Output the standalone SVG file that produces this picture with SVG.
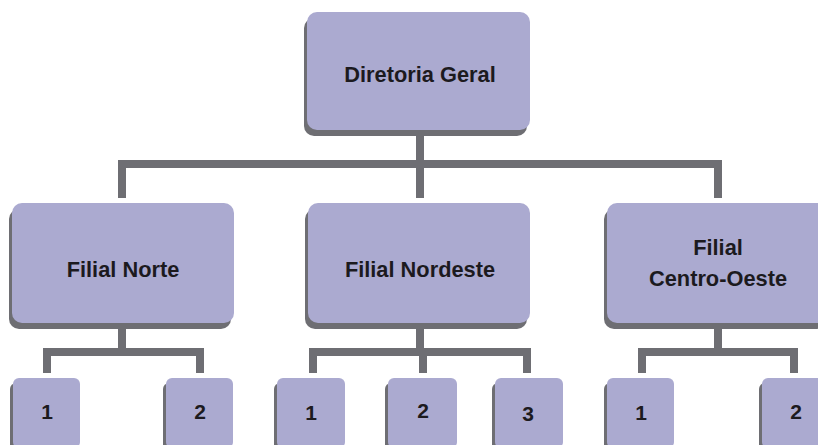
<svg xmlns="http://www.w3.org/2000/svg" width="818" height="445" viewBox="0 0 818 445">
<style>
.sh{fill:#6e6e73}
.bx{fill:#abaad0}
.t{font-family:"Liberation Sans",Arial,sans-serif;font-weight:bold;font-size:21.8px;fill:#1c1a1e;text-anchor:middle}
.n{font-family:"Liberation Sans",Arial,sans-serif;font-weight:bold;font-size:21px;fill:#1c1a1e;text-anchor:middle}
.c{fill:none;stroke:#6e6e73;stroke-width:8}
</style>
<rect width="818" height="445" fill="#ffffff"/>
<g id="connectors">
<path class="c" d="M420 134V164M122 164H718M122 160V198M420 160V198M718 160V198"/>
<path class="c" d="M122 328V352M47 352H200M47 348V373M200 348V373"/>
<path class="c" d="M420 328V352M313 352H527M313 348V373M423 348V373M527 348V373"/>
<path class="c" d="M718 328V352M642 352H794M642 348V373M794 348V373"/>
</g>
<g id="diretoria">
<rect class="sh" x="304" y="18" width="223" height="118" rx="10"/>
<rect class="bx" x="307" y="12" width="223" height="118" rx="10"/>
<text class="t" x="420" y="82">Diretoria Geral</text>
</g>
<g id="norte">
<rect class="sh" x="9" y="209" width="222" height="120" rx="10"/>
<rect class="bx" x="12" y="203" width="222" height="120" rx="10"/>
<text class="t" x="123" y="277">Filial Norte</text>
</g>
<g id="nordeste">
<rect class="sh" x="305" y="209" width="222" height="120" rx="10"/>
<rect class="bx" x="308" y="203" width="222" height="120" rx="10"/>
<text class="t" x="420" y="277">Filial Nordeste</text>
</g>
<g id="centro">
<rect class="sh" x="604" y="209" width="222" height="120" rx="10"/>
<rect class="bx" x="607" y="203" width="222" height="120" rx="10"/>
<text class="t" x="718" y="255">Filial</text>
<text class="t" x="718" y="286">Centro-Oeste</text>
</g>
<g id="norte1">
<rect class="sh" x="10" y="383" width="67" height="70" rx="6"/>
<rect class="bx" x="13" y="378" width="67" height="70" rx="6"/>
<text class="n" x="47" y="419">1</text>
</g>
<g id="norte2">
<rect class="sh" x="163" y="383" width="67" height="70" rx="6"/>
<rect class="bx" x="166" y="378" width="67" height="70" rx="6"/>
<text class="n" x="200" y="419">2</text>
</g>
<g id="nordeste1">
<rect class="sh" x="274" y="383" width="68" height="70" rx="6"/>
<rect class="bx" x="277" y="378" width="68" height="70" rx="6"/>
<text class="n" x="311" y="420">1</text>
</g>
<g id="nordeste2">
<rect class="sh" x="385" y="383" width="69" height="70" rx="6"/>
<rect class="bx" x="388" y="378" width="69" height="70" rx="6"/>
<text class="n" x="423" y="418">2</text>
</g>
<g id="nordeste3">
<rect class="sh" x="492" y="383" width="68" height="70" rx="6"/>
<rect class="bx" x="495" y="378" width="68" height="70" rx="6"/>
<text class="n" x="528" y="421">3</text>
</g>
<g id="centro1">
<rect class="sh" x="604" y="383" width="67" height="70" rx="6"/>
<rect class="bx" x="607" y="378" width="67" height="70" rx="6"/>
<text class="n" x="641" y="420">1</text>
</g>
<g id="centro2">
<rect class="sh" x="759" y="383" width="68" height="70" rx="6"/>
<rect class="bx" x="762" y="378" width="68" height="70" rx="6"/>
<text class="n" x="796" y="419">2</text>
</g>
</svg>
